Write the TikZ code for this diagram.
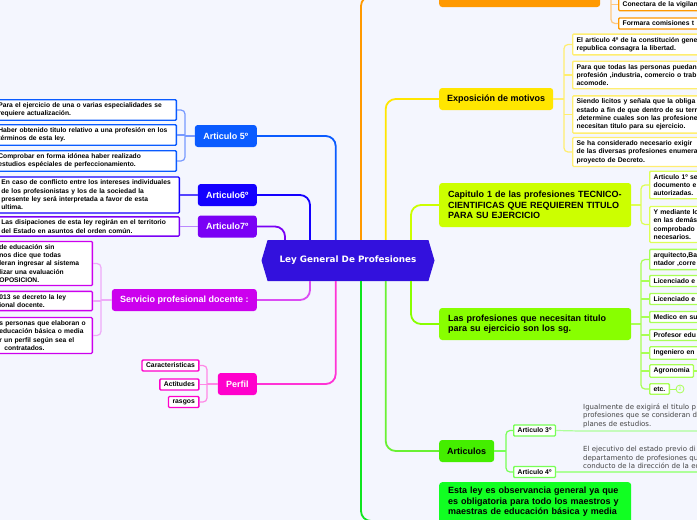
\documentclass[tikz,border=0pt]{standalone}
\usepackage{fontspec}
\setmainfont{Liberation Sans}
\newfontfamily\dejavu{DejaVu Sans}
\usetikzlibrary{shapes.symbols}

% colours of the branches
\definecolor{bgcol}{HTML}{F4F6FE}
\definecolor{leycol}{HTML}{3311DD}
\definecolor{orngcol}{HTML}{FF9900}
\definecolor{orngsub}{HTML}{FFC880}
\definecolor{motivcol}{HTML}{FFE600}
\definecolor{motivsub}{HTML}{FFEE70}
\definecolor{capcol}{HTML}{CCFF00}
\definecolor{capsub}{HTML}{DDFF55}
\definecolor{profcol}{HTML}{88FF00}
\definecolor{profsub}{HTML}{A8FF55}
\definecolor{artcol}{HTML}{44EE00}
\definecolor{artsub}{HTML}{77FF55}
\definecolor{obscol}{HTML}{11FF22}
\definecolor{a5col}{HTML}{0A5BFF}
\definecolor{a5sub}{HTML}{7799FF}
\definecolor{a6col}{HTML}{1400FF}
\definecolor{a6sub}{HTML}{5544FF}
\definecolor{a7col}{HTML}{7A00F5}
\definecolor{a7sub}{HTML}{BB88FF}
\definecolor{spdcol}{HTML}{CC00EE}
\definecolor{spdsub}{HTML}{EEAAF8}
\definecolor{perfcol}{HTML}{FF00CC}
\definecolor{perfsub}{HTML}{FF88E6}
\definecolor{notecol}{HTML}{444444}

\tikzset{
  topnode/.style={rounded corners=3pt, minimum height=22pt, inner xsep=6pt,
    font=\bfseries\fontsize{9}{10.5}\selectfont},
  leftnode/.style={topnode, text=white},
  widenode/.style={topnode, text width=174pt, align=left, inner xsep=9pt, anchor=west},
  subbox/.style={draw, fill=white, line width=1.3pt, rounded corners=1pt,
    inner xsep=4pt, inner ysep=3pt, align=left,
    font=\bfseries\fontsize{6.8}{8.3}\selectfont},
  lbox/.style={subbox, anchor=east, font=\bfseries\fontsize{6.7}{8.3}\selectfont},
  plaintxt/.style={text=notecol, align=left, inner xsep=3pt, inner ysep=3pt,
    text width=200pt, font=\dejavu\fontsize{7}{8.5}\selectfont},
  link/.style={line width=1.8pt, rounded corners=10pt},
  brace/.style={line width=1.2pt, rounded corners=4pt},
}

\begin{document}
\begin{tikzpicture}[x=1pt,y=-1pt]

% page
\fill[bgcol] (0,0) rectangle (697,520);
\useasboundingbox (0,0) rectangle (697,520);

% central topic
\node[signal, signal to=west and east, signal pointer angle=147, fill=leycol,
  text=white, minimum width=173pt, minimum height=41pt, inner sep=0pt,
  font=\dejavu\bfseries\fontsize{8.8}{10}\selectfont] (ley) at (348,260.5)
  {Ley General De Profesiones};

% x of the trunks
\coordinate (xo) at (361,0);
\coordinate (xy) at (385.7,0);
\coordinate (xl) at (411,0);
\coordinate (x5) at (335.7,0);
\coordinate (x6) at (310,0);
\coordinate (x7) at (285,0);

% right branches
\node[topnode, fill=orngcol, minimum width=161pt, anchor=west] (orng) at (439,-4) {};
\node[topnode, fill=motivcol, minimum width=114pt, anchor=west] (motiv) at (439,99) {Exposición de motivos};
\node[widenode, fill=capcol, minimum height=44pt] (capit) at (439,205)
  {Capitulo 1 de las profesiones TECNICO-\\CIENTIFICAS QUE REQUIEREN TITULO\\PARA SU EJERCICIO};
\node[widenode, fill=profcol, minimum height=32pt] (profs) at (439,324)
  {Las profesiones que necesitan titulo\\para su ejercicio son los sg.};
\node[topnode, fill=artcol, minimum width=55pt, anchor=west] (artics) at (439,451) {Articulos};
\node[widenode, fill=obscol, anchor=north west, inner ysep=5pt, text depth=24pt] (obsv) at (439,482)
  {Esta ley es observancia general ya que\\es obligatoria para todo los maestros y\\maestras de educación básica y media};
\coordinate (obsIn) at (439,521);

% left branches
\node[leftnode, fill=a5col, minimum width=62pt, anchor=east] (a5) at (257,136) {Articulo 5º};
\node[leftnode, fill=a6col, minimum width=59pt, anchor=east] (a6) at (257,195) {Articulo6º};
\node[leftnode, fill=a7col, minimum width=59pt, anchor=east] (a7) at (257,226.5) {Articulo7º};
\node[leftnode, fill=spdcol, minimum width=145pt, anchor=east] (spd) at (257,300) {Servicio profesional docente :};
\node[leftnode, fill=perfcol, minimum width=39pt, anchor=east] (perf) at (257,384) {Perfil};

% trunks from the centre
\draw[link, orngcol] (ley.north -| xo) |- (orng.west);
\draw[link, motivcol] (ley.north -| xy) |- (motiv.west);
\draw[link, capcol] (ley.north -| xl) |- (capit.west);
\draw[link, profcol] (ley.south -| xl) |- (profs.west);
\draw[link, artcol!80] (ley.south -| xy) |- (artics.west);
\draw[link, obscol!90!black] (ley.south -| xo) |- (obsIn);
\draw[link, a5col] (ley.north -| x5) |- (a5.east);
\draw[link, a6col] (ley.north -| x6) |- (a6.east);
\draw[link, a7col] (ley.north -| x7) |- (a7.east);
\draw[link, spdcol!70] (ley.south -| x6) |- (spd.east);
\draw[link, perfcol!80] (ley.south -| x5) |- (perf.east);

% orange subtopics
\node[subbox, draw=orngcol, text width=200pt, anchor=west] (o1) at (618,4.5) {Conectara de la vigilan};
\node[subbox, draw=orngcol, text width=200pt, anchor=west] (o2) at (618,23.5) {Formara comisiones t};
\coordinate (bo) at (611,0);
\coordinate (oTop) at (611,-20);
\draw[brace, orngsub] (orng.east) -- (bo |- orng.east);
\draw[brace, orngsub] (oTop) |- (o2.west);
\draw[brace, orngsub] (bo |- o1.west) -- (o1.west);

% Exposicion de motivos
\node[subbox, draw=motivsub, text width=200pt, anchor=west] (m1) at (572,44.5)
  {El articulo 4º de la constitución gene\\republica consagra la libertad.};
\node[subbox, draw=motivsub, text width=200pt, anchor=west] (m2) at (572,75)
  {Para que todas las personas puedan\\profesión ,industria, comercio o trab\\acomode.};
\node[subbox, draw=motivsub, text width=200pt, anchor=west] (m3) at (572,114.5)
  {Siendo licitos y señala que la obliga\\estado a fin de que dentro de su terr\\,determine cuales son las profesione\\necesitan titulo para su ejercicio.};
\node[subbox, draw=motivsub, text width=200pt, anchor=west] (m4) at (572,152)
  {Se ha considerado necesario exigir\\de las diversas profesiones enumera\\proyecto de Decreto.};
\coordinate (bm) at (564,0);
\draw[brace, motivsub] (motiv.east) -- (bm |- motiv.east);
\draw[brace, motivsub] (m1.west) -| (bm |- m4.west) -- (m4.west);
\draw[brace, motivsub] (bm |- m2.west) -- (m2.west);
\draw[brace, motivsub] (bm |- m3.west) -- (m3.west);

% Capitulo 1
\node[subbox, draw=capsub, text width=200pt, anchor=west] (c1) at (649,185)
  {Articulo 1º se\\documento e\\autorizadas.};
\node[subbox, draw=capsub, text width=200pt, anchor=west] (c2) at (649,224.5)
  {Y mediante lo\\en las demás\\comprobado\\necesarios.};
\coordinate (bc) at (641,0);
\draw[brace, capsub] (capit.east) -- (bc |- capit.east);
\draw[brace, capsub] (c1.west) -| (bc |- c2.west) -- (c2.west);

% profesiones
\node[subbox, draw=profsub, text width=200pt, anchor=west] (p1) at (649,259.5) {arquitecto,Ba\\ntador ,corre};
\node[subbox, draw=profsub, text width=200pt, anchor=west] (p2) at (649,281) {Licenciado e};
\node[subbox, draw=profsub, text width=200pt, anchor=west] (p3) at (649,299) {Licenciado e};
\node[subbox, draw=profsub, text width=200pt, anchor=west] (p4) at (649,317) {Medico en su};
\node[subbox, draw=profsub, text width=200pt, anchor=west] (p5) at (649,335) {Profesor edu};
\node[subbox, draw=profsub, text width=200pt, anchor=west] (p6) at (649,353) {Ingeniero en};
\node[subbox, draw=profsub, anchor=west] (p7) at (649,371) {Agronomia};
\node[subbox, draw=profsub, anchor=west] (p8) at (649,389) {etc.};
\node[circle, draw=profsub, text=profsub, line width=0.8pt, inner sep=0.5pt, minimum size=8pt,
  font=\fontsize{5}{5}\selectfont] (more) at (680,389) {2};
\coordinate (agrEnd) at (700,371);
\coordinate (bp) at (641,0);
\draw[brace, profsub] (profs.east) -- (bp |- profs.east);
\draw[brace, profsub] (p1.west) -| (bp |- p8.west) -- (p8.west);
\foreach \k in {2,...,7}
  \draw[brace, profsub] (bp |- p\k.west) -- (p\k.west);
\draw[brace, profsub] (p7.east) -- (agrEnd);
\draw[brace, profsub, line width=0.8pt] (p8.east) -- (more.west);

% Articulos
\node[subbox, draw=artsub, anchor=west] (r3) at (513,430.5) {Articulo 3º};
\node[subbox, draw=artsub, anchor=west] (r4) at (513,472) {Articulo 4º};
\coordinate (br) at (506,0);
\draw[brace, artsub] (artics.east) -- (br |- artics.east);
\draw[brace, artsub] (r3.west) -| (br |- r4.west) -- (r4.west);
\node[plaintxt, anchor=south west] (t3) at (580,431)
  {Igualmente de exigirá el titulo p\\profesiones que se consideran d\\planes de estudios.};
\node[plaintxt, anchor=south west] (t4) at (580,472)
  {El ejecutivo del estado previo di\\departamento de profesiones qu\\conducto de la dirección de la ed};
\draw[brace, artsub!60] (r3.east) -- (t3.south west) -- (t3.south east);
\draw[brace, artsub!60] (r4.east) -- (t4.south west) -- (t4.south east);

% Articulo 5
\node[lbox, draw=a5col, text width=174pt] (k1) at (177,110)
  {Para el ejercicio de una o varias especialidades se\\requiere actualización.};
\node[lbox, draw=a5col, text width=174pt] (k2) at (177,135)
  {Haber obtenido titulo relativo a una profesión en los\\términos de esta ley.};
\node[lbox, draw=a5col, text width=174pt] (k3) at (177,161)
  {Comprobar en forma idónea haber realizado\\estudios espéciales de perfeccionamiento.};
\coordinate (bk) at (185,0);
\draw[brace, a5sub] (a5.west) -- (bk |- a5.west);
\draw[brace, a5sub] (k1.east) -| (bk |- k3.east) -- (k3.east);
\draw[brace, a5sub] (bk |- k2.east) -- (k2.east);

% Articulo 6 y 7
\node[lbox, draw=a6col, text width=174pt] (k6) at (180,195)
  {En caso de conflicto entre los intereses individuales\\de los profesionistas y los de la sociedad la\\presente ley será interpretada a favor de esta\\ultima.};
\node[lbox, draw=a7col, text width=174pt] (k7) at (180,226.5)
  {Las disipaciones de esta ley regirán en el territorio\\del Estado en asuntos del orden común.};
\draw[brace, a6sub] (a6.west) -- (k6.east);
\draw[brace, a7sub] (a7.west) -- (k7.east);

% Servicio profesional docente
\node[lbox, draw=spdcol, text width=89pt] (s1) at (93,263.5)
  {de educación sin\\nos dice que todas\\leran ingresar al sistema\\lizar una evaluación\\OPOSICION.};
\node[lbox, draw=spdcol, text width=89pt] (s2) at (93,301)
  {013 se decreto la ley\\ional docente.};
\node[lbox, draw=spdcol, text width=89pt] (s3) at (93,335.5)
  {s personas que elaboran o\\educación básica o media\\r un perfil según sea el\\\hspace*{5pt}contratados.};
\coordinate (bs) at (101,0);
\draw[brace, spdsub] (spd.west) -- (bs |- spd.west);
\draw[brace, spdsub] (s1.east) -| (bs |- s3.east) -- (s3.east);
\draw[brace, spdsub] (bs |- s2.east) -- (s2.east);

% Perfil
\node[subbox, draw=perfcol, anchor=east] (q1) at (199.5,365.5) {Caracteristicas};
\node[subbox, draw=perfcol, anchor=east] (q2) at (199.5,384.5) {Actitudes};
\node[subbox, draw=perfcol, anchor=east] (q3) at (199.5,402) {rasgos};
\coordinate (bq) at (207,0);
\draw[brace, perfsub] (perf.west) -- (bq |- perf.west);
\draw[brace, perfsub] (q1.east) -| (bq |- q3.east) -- (q3.east);
\draw[brace, perfsub] (bq |- q2.east) -- (q2.east);

\end{tikzpicture}
\end{document}
